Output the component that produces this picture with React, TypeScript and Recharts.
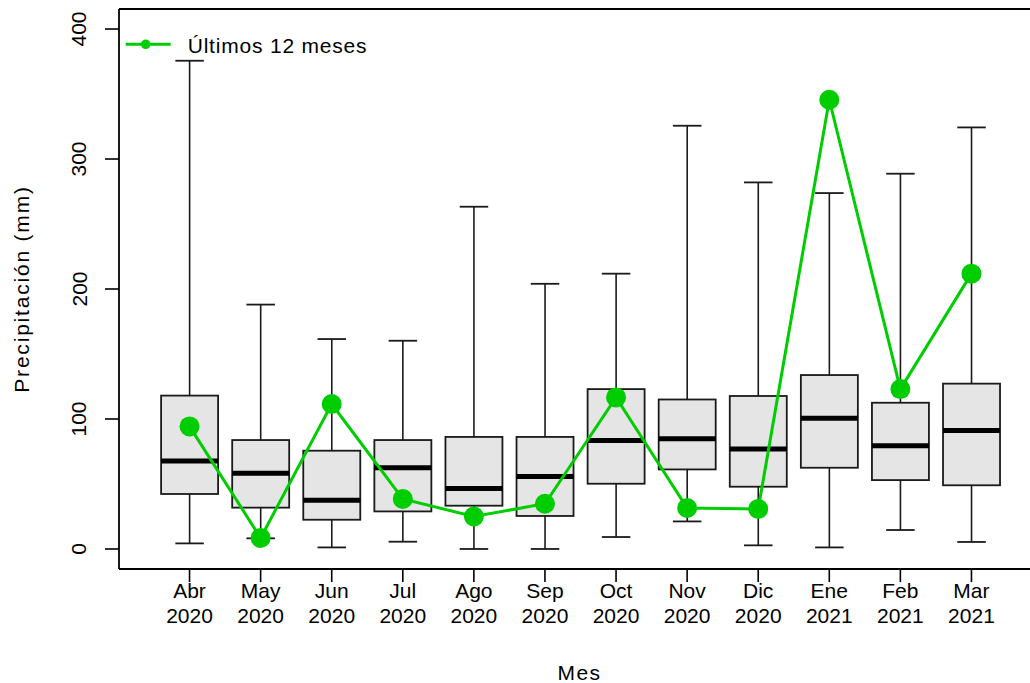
import React from 'react';
import {
  ComposedChart,
  Bar,
  Line,
  XAxis,
  YAxis,
  Legend,
  ReferenceLine,
} from 'recharts';

// categories
const months = ['Abr', 'May', 'Jun', 'Jul', 'Ago', 'Sep', 'Oct', 'Nov', 'Dic', 'Ene', 'Feb', 'Mar'];
const years = [2020, 2020, 2020, 2020, 2020, 2020, 2020, 2020, 2020, 2021, 2021, 2021];

// boxplot stats (mm)
const lowWhisker = [4.3, 8.2, 1.2, 5.6, 0, 0, 9.2, 21.2, 2.8, 1.2, 14.6, 5.4];
const q1 = [42.3, 31.8, 22.5, 28.9, 33.3, 25.4, 50.2, 61.2, 47.9, 62.5, 53, 49];
const median = [67.7, 58.2, 37.4, 62.5, 46.6, 55.8, 83.5, 84.8, 76.9, 100.5, 79.5, 91.2];
const q3 = [118, 83.8, 75.6, 83.8, 86.2, 86.2, 123, 115, 117.7, 133.8, 112.5, 127.2];
const highWhisker = [375.6, 188, 161.5, 160.2, 263.3, 204, 211.8, 325.6, 282, 273.8, 288.7, 324.3];

// last 12 months
const ultimos = [94.3, 8.5, 111.5, 38.5, 25, 34.8, 116.6, 31.5, 30.8, 345.6, 123, 211.8];

const yTicks = [0, 100, 200, 300, 400];

const GREEN = '#00CD00';
const FONT = '"Liberation Sans", Arial, sans-serif';

const data = months.map((m, i) => ({
  label: `${m} ${years[i]}`,
  min: lowWhisker[i],
  q1: q1[i],
  median: median[i],
  q3: q3[i],
  max: highWhisker[i],
  ultimos: ultimos[i],
}));

const BoxShape = (props: any) => {
  const { x, y, width, height, payload } = props;
  const span = payload.max - payload.min;
  const toY = (v: number) => y + (height * (payload.max - v)) / span;
  const cx = x + width / 2;
  const staple = width / 4;
  const yQ1 = toY(payload.q1);
  const yQ3 = toY(payload.q3);
  const yMed = toY(payload.median);
  const yMin = toY(payload.min);
  const yMax = toY(payload.max);
  return (
    <g>
      <line x1={cx} x2={cx} y1={yMax} y2={yQ3} stroke="#1a1a1a" strokeWidth={1.6} />
      <line x1={cx} x2={cx} y1={yQ1} y2={yMin} stroke="#1a1a1a" strokeWidth={1.6} />
      <line x1={cx - staple} x2={cx + staple} y1={yMax} y2={yMax} stroke="#1a1a1a" strokeWidth={1.8} />
      <line x1={cx - staple} x2={cx + staple} y1={yMin} y2={yMin} stroke="#1a1a1a" strokeWidth={1.8} />
      <rect x={x} y={yQ3} width={width} height={yQ1 - yQ3} fill="#E5E5E5" stroke="#1a1a1a" strokeWidth={1.8} />
      <line x1={x} x2={x + width} y1={yMed} y2={yMed} stroke="#000" strokeWidth={5} />
    </g>
  );
};

const XTick = (props: any) => {
  const { x, payload } = props;
  const [m, yr] = String(payload.value).split(' ');
  return (
    <text textAnchor="middle" fontFamily={FONT} fontSize={21} fill="#000">
      <tspan x={x} y={598}>{m}</tspan>
      <tspan x={x} y={622.5}>{yr}</tspan>
    </text>
  );
};

const YTick = (props: any) => {
  const { y, payload } = props;
  const bx = 86.5;
  return (
    <text
      x={bx}
      y={y}
      transform={`rotate(-90, ${bx}, ${y})`}
      textAnchor="middle"
      fontFamily={FONT}
      fontSize={21}
      fill="#000"
    >
      {payload.value}
    </text>
  );
};

const LegendContent = () => (
  <svg width={400} height={70} style={{ display: 'block' }}>
    <line x1={125.7} x2={170.7} y1={44.3} y2={44.3} stroke={GREEN} strokeWidth={3} />
    <circle cx={145.7} cy={44.3} r={4.8} fill={GREEN} />
    <text x={187.7} y={53} fontFamily={FONT} fontSize={21} letterSpacing={0.8} fill="#000">
      Últimos 12 meses
    </text>
  </svg>
);

export default function App() {
  return (
    <div
      style={{
        position: 'absolute',
        left: 0,
        top: 0,
        width: 1030,
        height: 683,
        overflow: 'hidden',
        background: '#fff',
      }}
    >
      <ComposedChart
        width={1040}
        height={683}
        data={data}
        margin={{ top: 9, right: 0, left: 0, bottom: 0 }}
        barCategoryGap="10%"
        style={{ fontFamily: FONT }}
      >
        <XAxis
          dataKey="label"
          interval={0}
          height={114}
          padding={{ left: 35, right: 33 }}
          tickSize={13}
          tickLine={{ stroke: '#000', strokeWidth: 1.6 }}
          axisLine={{ stroke: '#000', strokeWidth: 1.8 }}
          tick={<XTick />}
          label={{
            content: (p: any) => {
              const vb = p.viewBox || { x: 119, y: 569, width: 921, height: 114 };
              return (
                <text
                  x={vb.x + vb.width / 2}
                  y={680}
                  textAnchor="middle"
                  fontFamily={FONT}
                  fontSize={21}
                  letterSpacing={1.5}
                  fill="#000"
                >
                  Mes
                </text>
              );
            },
          }}
        />
        <YAxis
          type="number"
          width={119}
          domain={[-15.4, 415.4]}
          allowDataOverflow
          ticks={yTicks}
          tickSize={14}
          tickLine={{ stroke: '#000', strokeWidth: 1.6 }}
          axisLine={{ stroke: '#000', strokeWidth: 1.8 }}
          tick={<YTick />}
          label={{
            content: (p: any) => {
              const vb = p.viewBox || { x: 0, y: 9, width: 119, height: 560 };
              const cy = vb.y + vb.height / 2;
              return (
                <text
                  x={28.5}
                  y={cy}
                  transform={`rotate(-90, 28.5, ${cy})`}
                  textAnchor="middle"
                  fontFamily={FONT}
                  fontSize={21}
                  letterSpacing={1.8}
                  fill="#000"
                >
                  Precipitación (mm)
                </text>
              );
            },
          }}
        />
        <ReferenceLine y={415.4} stroke="#000" strokeWidth={1.8} />
        <Bar
          dataKey={(d: any) => [d.min, d.max]}
          shape={<BoxShape />}
          isAnimationActive={false}
          legendType="none"
        />
        <Line
          type="linear"
          dataKey="ultimos"
          name="Últimos 12 meses"
          stroke={GREEN}
          strokeWidth={3}
          dot={{ r: 10, fill: GREEN, stroke: GREEN, strokeWidth: 0 }}
          activeDot={false}
          isAnimationActive={false}
        />
        <Legend
          layout="horizontal"
          verticalAlign="middle"
          align="center"
          content={<LegendContent />}
          wrapperStyle={{ position: 'absolute', left: 0, top: 0, width: 400, height: 70 }}
        />
      </ComposedChart>
    </div>
  );
}
